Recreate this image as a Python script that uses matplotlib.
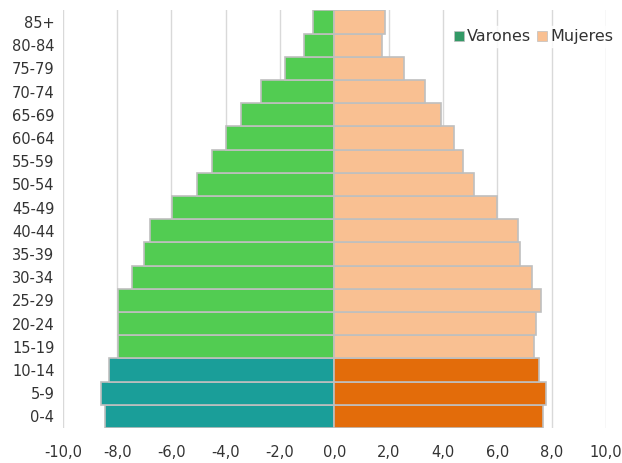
import matplotlib
matplotlib.use("Agg")
import matplotlib.pyplot as plt
from matplotlib.patches import Patch

plt.rcParams['font.family'] = ['DejaVu Sans']

ages = ["0-4", "5-9", "10-14", "15-19", "20-24", "25-29", "30-34", "35-39", "40-44",
        "45-49", "50-54", "55-59", "60-64", "65-69", "70-74", "75-79", "80-84", "85+"]
varones = [-8.45, -8.59, -8.30, -7.96, -7.96, -7.96, -7.46, -7.00, -6.79,
           -5.97, -5.05, -4.50, -4.00, -3.43, -2.69, -1.82, -1.10, -0.80]
mujeres = [7.70, 7.81, 7.55, 7.37, 7.43, 7.61, 7.28, 6.83, 6.78,
           6.01, 5.13, 4.74, 4.40, 3.92, 3.33, 2.56, 1.77, 1.88]
xticks = [-10, -8, -6, -4, -2, 0, 2, 4, 6, 8, 10]
xtick_labels = ["-10,0", "-8,0", "-6,0", "-4,0", "-2,0", "0,0", "2,0", "4,0", "6,0", "8,0", "10,0"]

green, teal = "#52CC52", "#1A9E99"
peach, orange = "#F9C092", "#E36C0A"
men_colors = [teal if i < 3 else green for i in range(len(ages))]
women_colors = [orange if i < 3 else peach for i in range(len(ages))]

fig = plt.figure(figsize=(6.22, 4.63), dpi=100)
ax = fig.add_axes([0.101, 0.0756, 0.873, 0.902])

y = list(range(len(ages)))
ax.barh(y, varones, height=1.0, color=men_colors, edgecolor="#BFBFBF", linewidth=1.2, zorder=3)
ax.barh(y, mujeres, height=1.0, color=women_colors, edgecolor="#BFBFBF", linewidth=1.2, zorder=3)

ax.set_xlim(-10, 10)
ax.set_ylim(-0.5, len(ages) - 0.5)
ax.set_xticks(xticks)
ax.set_xticklabels(xtick_labels, fontsize=10.5, color="#333333")
ax.set_yticks(y)
ax.set_yticklabels(ages, fontsize=10.5, color="#333333")
ax.tick_params(length=0, pad=6)
ax.tick_params(axis='x', pad=12)
ax.grid(axis='x', color="#D9D9D9", linewidth=1.0, zorder=0)
ax.set_axisbelow(True)
for s in ax.spines.values():
    s.set_visible(False)

handles = [Patch(facecolor="#339966", edgecolor="#BFBFBF", linewidth=0.5, label="Varones"),
           Patch(facecolor=peach, edgecolor="#BFBFBF", linewidth=0.5, label="Mujeres")]
leg = ax.legend(handles=handles, loc="upper right", bbox_to_anchor=(1.025, 0.97), ncol=2,
                frameon=True, fontsize=11.5, handlelength=0.6, handleheight=0.6,
                handletextpad=0.2, columnspacing=0.4, borderpad=0.2, borderaxespad=0.2,
                fancybox=False)
for t in leg.get_texts():
    t.set_color("#333333")
leg.get_frame().set_facecolor("white")
leg.get_frame().set_edgecolor("white")
leg.set_zorder(5)

fig.savefig("out.png", dpi=100)
